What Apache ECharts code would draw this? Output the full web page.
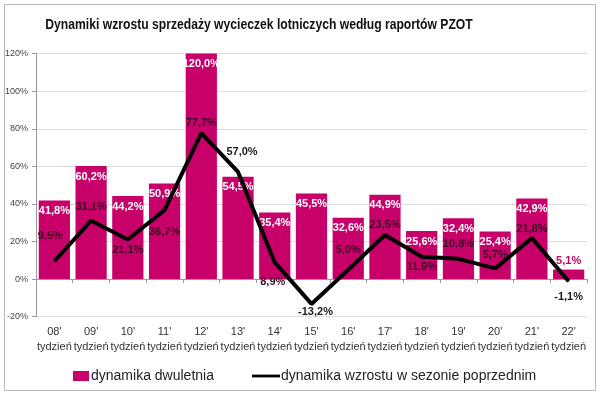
<!DOCTYPE html>
<html><head><meta charset="utf-8">
<script src="https://cdn.jsdelivr.net/npm/echarts@6/dist/echarts.min.js"></script>
<style>html,body{margin:0;padding:0;background:#fff}#c{width:600px;height:394px}</style>
</head><body><div id="c"></div>
<script>
const categories = ["08'","09'","10'","11'","12'","13'","14'","15'","16'","17'","18'","19'","20'","21'","22'"];
const barValues = [41.8,60.2,44.2,50.9,120.0,54.5,35.4,45.5,32.6,44.9,25.6,32.4,25.4,42.9,5.1];
const lineValues = [9.5,31.1,21.1,36.7,77.7,57.0,8.9,-13.2,5.0,23.5,11.9,10.8,5.7,21.8,-1.1];
const yTicks = {min:-20, max:120, interval:20};
const barName = 'dynamika dwuletnia';
const lineName = 'dynamika wzrostu w sezonie poprzednim';
const titleText = 'Dynamiki wzrostu sprzedaży wycieczek lotniczych według raportów PZOT';

// label placement (style, not data)
const linePos  = ['top','top','bottom','bottom','top','top','bottom','bottom','top','top','bottom','top','top','top','bottom'];
const lineDist = [19,8,5,16,4,14,14,2,14,4,4,9,7,3,10];
const lineDx   = [-4,0,0,0,0,4,-2,4,0,0,0,0,0,0,0];

const fmt = v => v.toFixed(1).replace('.', ',') + '%';
const PINK = '#C8006A';
const FONT = 'Liberation Sans';

const barData = barValues.map((v,i)=>{
  const o = {value:v};
  if (i === barValues.length-1) o.label = {position:'top', distance:3, color:PINK};
  return o;
});
const lineData = lineValues.map((v,i)=>({
  value:v,
  label:{position:linePos[i], distance:lineDist[i], offset:[lineDx[i],0],
         color: (lineValues[i] > 3 && lineValues[i] < barValues[i] - 3) ? '#3d0a25' : '#1a1a1a'}
}));

const chart = echarts.init(document.getElementById('c'), null, {renderer:'canvas'});
chart.setOption({
  animation:false,
  textStyle:{fontFamily:FONT},
  graphic:[
    {type:'rect', shape:{x:4.5,y:4.5,width:591,height:386}, style:{fill:null, stroke:'#b8b8b8', lineWidth:1}, silent:true, z:-1},
    {type:'text', x:259, y:25, scaleX:0.81, originX:0, originY:0,
      style:{text:titleText, fontSize:15, fontWeight:'bold', fill:'#111', fontFamily:FONT,
        align:'center', verticalAlign:'middle'}}
  ],
  legend:[
    {left:68, top:364, itemWidth:16, itemHeight:10, itemGap:10,
      textStyle:{fontSize:14, color:'#222', fontFamily:FONT, padding:[0,0,0,-3]},
      data:[{name:barName, icon:'rect'}]},
    {left:247, top:364, itemWidth:28, itemHeight:10,
      textStyle:{fontSize:14, color:'#222', fontFamily:FONT, padding:[0,0,0,-4]},
      data:[{name:lineName, icon:'path://M0,3.5L30,3.5L30,6.5L0,6.5Z', itemStyle:{color:'#000'}}]}
  ],
  grid:{left:36, right:13, top:53.6, bottom:77.3},
  xAxis:[{
    type:'category', data:categories, position:'bottom',
    axisLine:{show:false, onZero:false}, axisTick:{show:false},
    axisLabel:{interval:0, fontSize:11, color:'#333', lineHeight:15, margin:8,
      formatter: v => v + '\ntydzień'}
  },{
    type:'category', data:categories, position:'bottom',
    axisLine:{show:true, onZero:true, lineStyle:{color:'#999'}},
    axisTick:{show:true, length:4, lineStyle:{color:'#999'}},
    axisLabel:{show:false}
  }],
  yAxis:{type:'value', min:yTicks.min, max:yTicks.max, interval:yTicks.interval,
    axisLine:{show:true, lineStyle:{color:'#999'}},
    axisTick:{show:true, length:4, lineStyle:{color:'#999'}},
    splitLine:{lineStyle:{color:'#dcdcdc'}},
    axisLabel:{fontSize:9, color:'#444', margin:8, formatter:v=>v+'%'}},
  series:[{
    name:barName, type:'bar', data:barData, barCategoryGap:'15%',
    itemStyle:{color:PINK},
    label:{show:true, position:'insideTop', distance:5, color:'#fff', fontWeight:'bold', fontSize:11,
      formatter:p=>fmt(p.value)}
  },{
    name:lineName, type:'line', data:lineData, showSymbol:true, symbol:'circle', symbolSize:1,
    lineStyle:{color:'#000', width:4}, itemStyle:{color:'#000'},
    label:{show:true, fontWeight:'bold', fontSize:11, formatter:p=>fmt(p.value)},
    z:5
  }]
});
</script></body></html>
